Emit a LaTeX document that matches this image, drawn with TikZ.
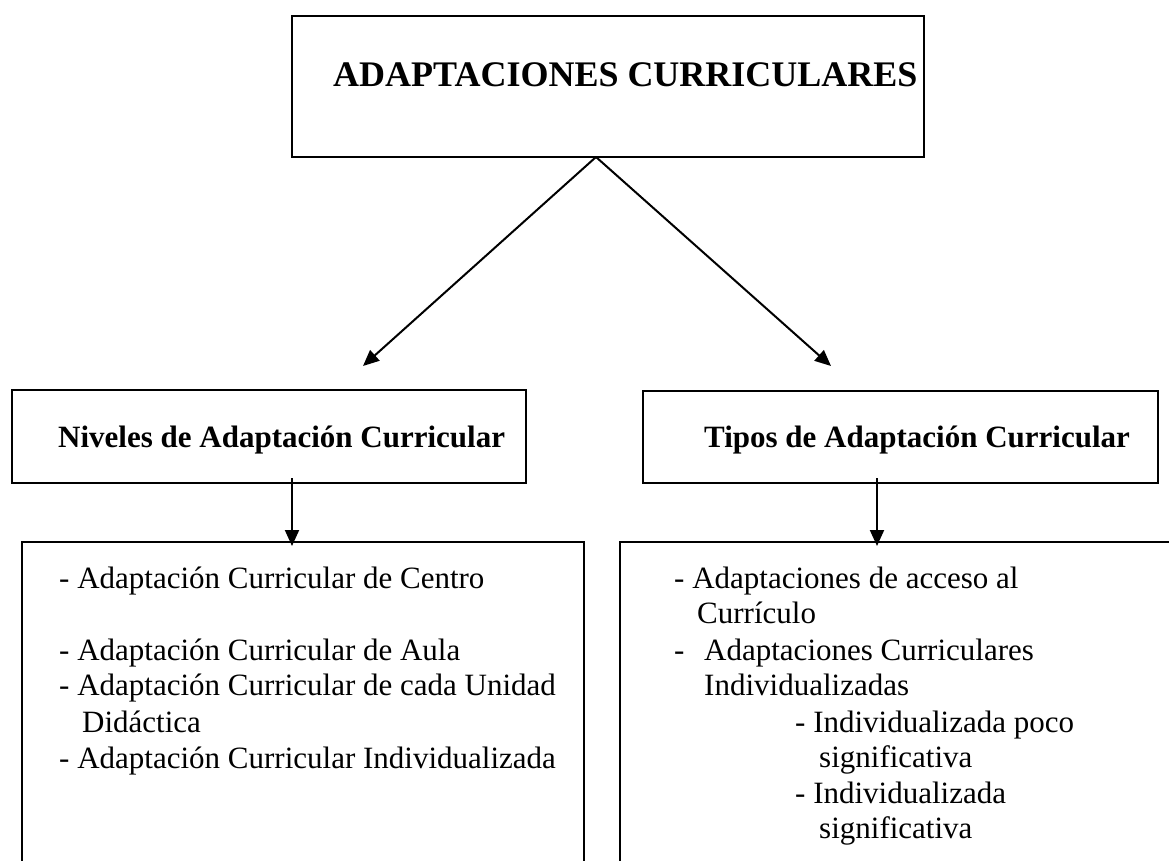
\documentclass[tikz,border=0pt]{standalone}
\usepackage{fontspec}
\setmainfont{Liberation Serif}
\usetikzlibrary{arrows.meta}
\tikzset{
  box/.style={draw=black, line width=2pt, rectangle, inner sep=0pt},
  txt/.style={inner sep=0pt, anchor=base west, font=\fontsize{31}{36}\selectfont},
  btxt/.style={inner sep=0pt, anchor=base west, font=\fontsize{31}{36}\selectfont\bfseries},
  ttxt/.style={inner sep=0pt, anchor=base west, font=\fontsize{36}{40}\selectfont\bfseries},
  arr/.style={draw=black, line width=2pt, -{Triangle[length=16pt,width=14pt]}}
}
\begin{document}
\begin{tikzpicture}[x=1pt,y=-1pt]
\useasboundingbox (0,0) rectangle (1169,861);
\clip (0,0) rectangle (1169,861);
% boxes
\node[box, minimum width=632pt, minimum height=141pt] (top) at (608,86.5) {};
\node[box, minimum width=514pt, minimum height=93pt] (lvl) at (269,436.5) {};
\node[box, minimum width=515pt, minimum height=92pt] (typ) at (900.5,437) {};
\node[box, minimum width=562pt, minimum height=358pt] (lvlb) at (303,721) {};
\node[box, minimum width=580pt, minimum height=358pt] (typb) at (910,721) {};
% titles
\node[ttxt] (ttl) at (333,87) {ADAPTACIONES CURRICULARES};
\node[btxt] (lvlt) at (58,447) {Niveles de Adaptación Curricular};
\node[btxt] (typt) at (704,447) {Tipos de Adaptación Curricular};
% left list
\node[txt] (l1) at (59,588) {- Adaptación Curricular de Centro};
\node[txt] (l2) at (59,660) {- Adaptación Curricular de Aula};
\node[txt] (l3) at (59,695) {- Adaptación Curricular de cada Unidad};
\node[txt] (l4) at (82,732) {Didáctica};
\node[txt] (l5) at (59,768) {- Adaptación Curricular Individualizada};
% right list
\node[txt] (r1) at (674,588) {- Adaptaciones de acceso al};
\node[txt] (r2) at (697,623) {Currículo};
\node[txt] (r3) at (674,660) {-\hspace*{19.7pt}Adaptaciones Curriculares};
\node[txt] (r4) at (704,695) {Individualizadas};
\node[txt] (r5) at (795,732) {- Individualizada poco};
\node[txt] (r6) at (819,767) {significativa};
\node[txt] (r7) at (795,803) {- Individualizada};
\node[txt] (r8) at (819,838) {significativa};
% connectors
\coordinate (apex) at (596,157);
\coordinate (tipl) at (363,366);
\coordinate (tipr) at (831,366);
\draw[arr] (apex) -- (tipl);
\draw[arr] (apex) -- (tipr);
\coordinate (vl) at (292,478);
\coordinate (vr) at (877,478);
\draw[arr, shorten >=-5pt] (vl) -- (vl |- lvlb.north);
\draw[arr, shorten >=-5pt] (vr) -- (vr |- typb.north);
\end{tikzpicture}
\end{document}
